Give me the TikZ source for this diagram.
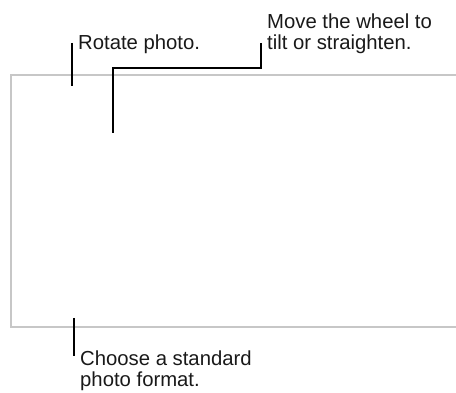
\documentclass[tikz,border=0pt]{standalone}
\usepackage{fontspec}
\setmainfont{Liberation Sans}
\usetikzlibrary{positioning}

\begin{document}
\begin{tikzpicture}[
    x=1pt, y=-1pt,
    callout/.style={inner sep=0pt, anchor=base west, align=left, font=\fontsize{20.3}{21}\selectfont, text=black!90},
    leader/.style={draw=black, line width=1.1pt},
    frame/.style={draw=black!22, line width=2pt}
]
\useasboundingbox (0,0) rectangle (456,393);

% Photo area (open on the right)
\draw[frame] (457,75) -- (11,75) -- (11,327) -- (457,327);

% Callout texts (anchored at the last line)
\node[callout] (rotate) at (78,50) {Rotate photo.};
\node[callout] (wheel) at (267,49.5) {Move the wheel to\\tilt or straighten.};
\node[callout] (format) at (80,387) {Choose a standard\\photo format.};

% Leader ends
\coordinate (rotateTop) at (72,43);
\coordinate (rotateEnd) at (72,86);
\coordinate (wheelTop) at (261,43);
\coordinate (wheelEnd) at (113,133);
\coordinate (formatTop) at (74,318);
\coordinate (formatEnd) at (74,356);

% Leaders
\draw[leader] (rotateTop) -- (rotateEnd);
\draw[leader] (wheelTop) |- (wheelEnd |- 0,68) -- (wheelEnd);
\draw[leader] (formatTop) -- (formatEnd);

\end{tikzpicture}
\end{document}
